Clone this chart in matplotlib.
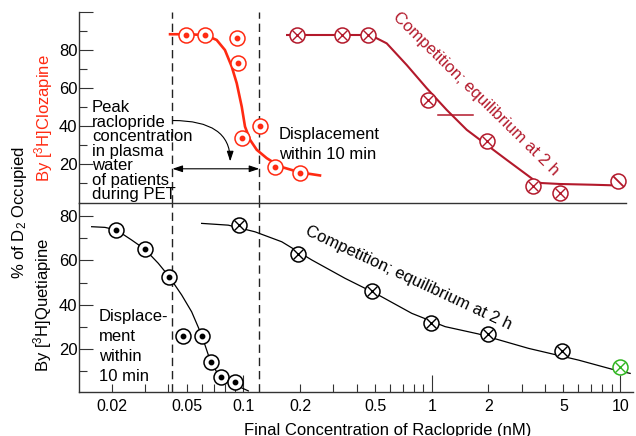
import numpy as np
import matplotlib.pyplot as plt
from matplotlib.path import Path

plt.rcParams['font.family'] = ['Liberation Sans', 'DejaVu Sans']
plt.rcParams['mathtext.fontset'] = 'custom'
plt.rcParams['mathtext.rm'] = 'Liberation Sans'
plt.rcParams['mathtext.it'] = 'Liberation Sans:italic'
plt.rcParams['mathtext.bf'] = 'Liberation Sans:bold'

RED = '#ff2a12'
DARK = '#b3192b'
GREEN = '#2fb51f'
INK = '#333333'

# top panel, [3H]clozapine displacement (10 min)
clz_disp_x = [0.0494, 0.0625, 0.0930, 0.0940, 0.0980, 0.1227, 0.1473, 0.1998]
clz_disp_y = [87.9, 87.9, 86.2, 73.0, 33.6, 40.1, 18.7, 15.3]
clz_disp_fit_x = [0.0408, 0.050, 0.0625, 0.0721, 0.0798, 0.0867, 0.0922, 0.098,
                  0.102, 0.1084, 0.1177, 0.133, 0.1564, 0.1998, 0.2551]
clz_disp_fit_y = [88.3, 88.3, 87.9, 85.3, 80.0, 71.3, 62.5, 50.2,
                  39.7, 32.8, 27.5, 23.1, 18.7, 15.6, 14.0]

# top panel, competition at 2 h
clz_comp_x = [0.192, 0.333, 0.461, 0.959, 1.959, 3.464, 4.80]
clz_comp_y = [87.9, 87.9, 87.9, 53.8, 31.9, 8.2, 4.75]
clz_slash_x = [9.80]
clz_slash_y = [11.2]
clz_comp_fit_x = [0.1706, 0.461, 0.51, 0.577, 0.737, 0.941, 1.201, 1.535, 1.959,
                  2.502, 3.196, 3.61, 3.839, 4.80, 7.21, 9.6]
clz_comp_fit_y = [87.9, 87.9, 86.2, 83.5, 72.1, 59.9, 48.5, 38.0, 30.1,
                  22.2, 14.4, 10.5, 10.0, 9.5, 9.1, 8.75]
clz_ic50_x = [1.084, 1.662]
clz_ic50_y = [45.9, 45.9]

# bottom panel, [3H]quetiapine displacement (10 min)
que_disp_x = [0.0211, 0.030, 0.0404, 0.0476, 0.060, 0.0673, 0.0757, 0.0902]
que_disp_y = [73.7, 65.0, 52.6, 26.0, 26.0, 14.3, 7.2, 5.3]
que_disp_fit_x = [0.01564, 0.0184, 0.0212, 0.0255, 0.030, 0.0353, 0.0404, 0.047,
                  0.0531, 0.060, 0.0665, 0.0736, 0.0867, 0.1062]
que_disp_fit_y = [75.2, 74.9, 73.7, 69.2, 65.0, 58.7, 52.6, 44.4,
                  36.8, 26.3, 15.0, 8.3, 4.5, 1.1]

# bottom panel, competition at 2 h
que_comp_x = [0.0951, 0.1943, 0.480, 0.991, 2.0, 4.90]
que_comp_y = [75.9, 62.7, 46.3, 31.6, 26.6, 19.1]
que_last_x = [10.0]
que_last_y = [12.0]
que_comp_fit_x = [0.060, 0.0831, 0.1152, 0.1598, 0.2305, 0.3464, 0.5204, 0.783,
                  1.177, 1.768, 3.26, 6.01, 9.03, 11.3]
que_comp_fit_y = [76.7, 75.9, 72.9, 68.4, 60.2, 51.9, 44.4, 36.1,
                  30.1, 26.8, 20.3, 15.0, 10.9, 9.0]

# plasma peak range (dashed lines)
peak_lo = 0.042
peak_hi = 0.1215

W, H = 636, 436
def fx(px):
    return px / W
def fy(py):
    return 1 - py / H

fig = plt.figure(figsize=(6.36, 4.36), dpi=100)
ax_bot = fig.add_axes([fx(79), fy(392), (633 - 79) / W, (392 - 203) / H])
ax_top = fig.add_axes([fx(79), fy(203), (626 - 79) / W, (203 - 12) / H])
ax_top.patch.set_visible(False)
ax_bot.patch.set_visible(False)

#markers
def circ_dot(ax, x, y, c):
    ax.plot(x, y, 'o', ms=10.8, mfc='white', mec=c, mew=1.1, ls='none', zorder=4)
    ax.plot(x, y, 'o', ms=3.2, color=c, ls='none', zorder=5)

def circ_x(ax, x, y, c):
    ax.plot(x, y, 'o', ms=10.8, mfc='white', mec=c, mew=1.1, ls='none', zorder=4)
    ax.plot(x, y, 'x', ms=7.4, mec=c, mew=1.0, ls='none', zorder=5)

slash = Path([(-0.5, 0.5), (0.5, -0.5)], [Path.MOVETO, Path.LINETO])
def circ_slash(ax, x, y, c):
    ax.plot(x, y, 'o', ms=10.8, mfc='white', mec=c, mew=1.1, ls='none', zorder=4)
    ax.plot(x, y, marker=slash, ms=7.6, mec=c, mew=1.3, ls='none', zorder=5)

# top panel
ax_top.plot(clz_disp_fit_x, clz_disp_fit_y, color=RED, lw=1.9, zorder=3)
circ_dot(ax_top, clz_disp_x, clz_disp_y, RED)
ax_top.plot(clz_comp_fit_x, clz_comp_fit_y, color=DARK, lw=1.5, zorder=3)
ax_top.plot(clz_ic50_x, clz_ic50_y, color=DARK, lw=1.1, zorder=3)
circ_x(ax_top, clz_comp_x, clz_comp_y, DARK)
circ_slash(ax_top, clz_slash_x, clz_slash_y, DARK)

# bottom panel
ax_bot.plot(que_disp_fit_x, que_disp_fit_y, color='black', lw=0.9, zorder=3)
circ_dot(ax_bot, que_disp_x, que_disp_y, 'black')
ax_bot.plot(que_comp_fit_x, que_comp_fit_y, color='black', lw=0.9, zorder=3)
circ_x(ax_bot, que_comp_x, que_comp_y, 'black')
circ_x(ax_bot, que_last_x, que_last_y, GREEN)

for ax in (ax_top, ax_bot):
    ax.set_xscale('log')
    ax.axvline(peak_lo, color='#222222', lw=1.0, ls=(0, (6, 3.5)), zorder=2)
    ax.axvline(peak_hi, color='#222222', lw=1.0, ls=(0, (6, 3.5)), zorder=2)
    ax.spines['top'].set_visible(False)
    ax.spines['right'].set_visible(False)
    for s in ('left', 'bottom'):
        ax.spines[s].set_color(INK)
        ax.spines[s].set_linewidth(1.0)
    ax.tick_params(axis='y', which='major', direction='in', length=10, width=0.8,
                   color=INK, labelsize=12, pad=1)
    ax.tick_params(axis='y', which='minor', direction='in', length=6, width=0.8, color=INK)

ax_top.set_xlim(0.0134, 10.76)
ax_top.set_ylim(-0.5, 100)
ax_top.tick_params(axis='x', which='both', bottom=False, labelbottom=False)
ax_top.set_yticks([20, 40, 60, 80, 100])
ax_top.set_yticklabels(['20', '40', '60', '80', ''])
ax_top.set_yticks([10, 30, 50, 70, 90], minor=True)

ax_bot.set_xlim(0.0134, 11.7)
ax_bot.set_ylim(0.6, 85.9)
ax_bot.set_yticks([20, 40, 60, 80])
ax_bot.set_yticks([10, 30, 50, 70], minor=True)
ax_bot.set_xticks([0.1, 1, 10])
ax_bot.set_xticklabels(['0.1', '1', '10'])
minor_x = [m * d for d in (0.01, 0.1, 1) for m in range(2, 10)]
ax_bot.set_xticks(minor_x, minor=True)
ax_bot.set_xticklabels(['%g' % v if round(v / 10 ** np.floor(np.log10(v))) in (2, 5) else ''
                        for v in minor_x], minor=True)
ax_bot.tick_params(axis='x', which='major', direction='in', length=12, width=0.8,
                   color=INK, labelsize=11.5, pad=5)
ax_bot.tick_params(axis='x', which='minor', direction='in', length=6, width=0.8,
                   color=INK, labelsize=11.5, pad=5)

# arrows
ax_top.annotate('', xy=(0.0851, 21.4), xytext=(0.0423, 42.9),
                arrowprops=dict(arrowstyle='-|>,head_length=0.6,head_width=0.2',
                                connectionstyle='angle3,angleA=0,angleB=90',
                                color='black', lw=0.8, shrinkA=0, shrinkB=0))
ax_top.annotate('', xy=(peak_hi, 17.5), xytext=(peak_lo, 17.5),
                arrowprops=dict(arrowstyle='<|-|>,head_length=0.6,head_width=0.2',
                                color='black', lw=0.8, shrinkA=0, shrinkB=0))

# texts
fs = 12
peak_lines = ['Peak', 'raclopride', 'concentration', 'in plasma', 'water',
              'of patients', 'during PET']
for i, t in enumerate(peak_lines):
    fig.text(fx(92), fy(112.3 + 14.45 * i), t, fontsize=fs, va='baseline', ha='left')
for i, t in enumerate(['Displacement', 'within 10 min']):
    fig.text(fx(279), fy(139.3 + 20 * i), t, fontsize=fs, va='baseline', ha='left')
for i, t in enumerate(['Displace-', 'ment', 'within', '10 min']):
    fig.text(fx(99), fy(321 + 20 * i), t, fontsize=fs, va='baseline', ha='left')

ax_top.text(1.725, 57.2, 'Competition; equilibrium at 2 h', color=DARK, fontsize=fs,
            rotation=-44.5, rotation_mode='anchor', ha='center', va='center')
ax_bot.text(0.748, 52.0, 'Competition; equilibrium at 2 h', color='black', fontsize=fs,
            rotation=-25, rotation_mode='anchor', ha='center', va='center')

fig.text(fx(20), fy(213), '% of D$_2$ Occupied', rotation=90, fontsize=12,
         ha='center', va='center')
fig.text(fx(43.5), fy(118), 'By [$^3$H]Clozapine', rotation=90, fontsize=12,
         ha='center', va='center', color=RED)
fig.text(fx(43), fy(305), 'By [$^3$H]Quetiapine', rotation=90, fontsize=12,
         ha='center', va='center')
fig.text(fx(388), fy(430), 'Final Concentration of Raclopride (nM)', fontsize=12,
         ha='center', va='center')

fig.savefig('out.png', dpi=100)
